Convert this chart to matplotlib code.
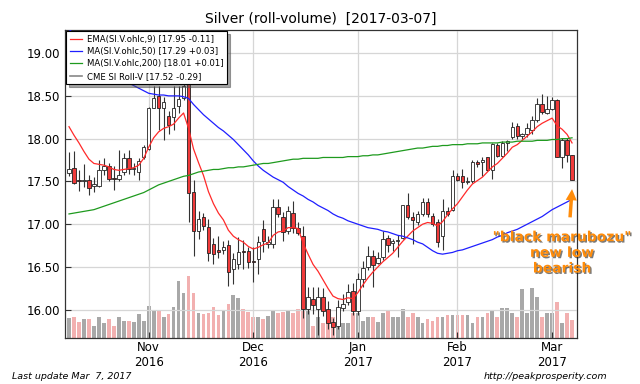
import numpy as np
import pandas as pd
from matplotlib import pyplot as plt
import matplotlib.patheffects as pe

# trading days shown (CME holidays removed)
holidays = ['2016-11-24', '2016-12-26', '2017-01-02', '2017-01-16', '2017-02-20']
dates = pd.bdate_range('2016-10-10', '2017-03-07')
dates = dates[~dates.isin(pd.to_datetime(holidays))]

opens = [17.60, 17.66, 17.52, 17.50, 17.52, 17.45, 17.45, 17.63, 17.68, 17.54,
         17.53, 17.61, 17.77, 17.64, 17.61, 17.79, 17.88, 18.36, 18.50, 18.36,
         18.26, 18.25, 18.38, 18.48, 18.68, 17.38, 16.92, 17.09, 16.97, 16.77,
         16.70, 16.70, 16.76, 16.48, 16.53, 16.69, 16.69, 16.57, 16.59, 16.94,
         16.77, 16.77, 17.20, 17.08, 16.92, 17.13, 16.96, 16.86, 16.01, 16.13,
         16.01, 16.15, 16.01, 15.86, 15.81, 16.02, 16.09, 16.22, 15.98, 16.36,
         16.50, 16.63, 16.55, 16.62, 16.84, 16.78, 16.80, 16.84, 17.22, 17.08,
         17.02, 17.12, 17.26, 17.10, 17.02, 16.86, 17.16, 17.17, 17.56, 17.56,
         17.49, 17.51, 17.73, 17.73, 17.78, 17.63, 17.93, 17.80, 17.95, 18.02,
         18.15, 18.03, 18.05, 18.10, 18.22, 18.41, 18.30, 18.35, 18.45, 17.79,
         17.98, 17.81]
highs = [17.84, 17.85, 17.63, 17.70, 17.57, 17.55, 17.75, 17.77, 17.72, 17.68,
         17.87, 17.83, 17.87, 17.72, 17.77, 17.92, 18.37, 18.62, 18.62, 18.49,
         18.32, 18.62, 18.62, 18.75, 18.75, 17.52, 17.15, 17.13, 17.06, 16.84,
         16.86, 16.80, 16.82, 16.66, 16.85, 16.81, 16.73, 16.73, 16.86, 17.05,
         16.86, 17.29, 17.29, 17.14, 17.21, 17.27, 17.02, 16.98, 16.27, 16.27,
         16.27, 16.25, 16.10, 15.90, 16.11, 16.19, 16.30, 16.31, 16.43, 16.57,
         16.74, 16.70, 16.68, 16.92, 16.87, 16.83, 16.87, 17.23, 17.36, 17.14,
         17.16, 17.31, 17.31, 17.13, 17.06, 17.30, 17.20, 17.63, 17.60, 17.64,
         17.55, 17.75, 17.75, 17.79, 17.79, 17.95, 17.95, 17.97, 17.98, 18.19,
         18.18, 18.07, 18.18, 18.26, 18.47, 18.52, 18.50, 18.49, 18.46, 18.01,
         18.01, 17.81]
lows = [17.56, 17.47, 17.39, 17.43, 17.34, 17.38, 17.44, 17.57, 17.50, 17.40,
        17.50, 17.57, 17.59, 17.57, 17.52, 17.76, 17.87, 18.36, 18.10, 17.98,
        18.05, 18.10, 18.30, 18.45, 17.02, 16.63, 16.83, 16.93, 16.57, 16.53,
        16.60, 16.65, 16.28, 16.30, 16.48, 16.48, 16.49, 16.32, 16.42, 16.68,
        16.72, 16.72, 17.08, 16.80, 16.88, 16.90, 16.87, 15.90, 15.95, 15.95,
        15.70, 15.93, 15.78, 15.70, 15.78, 15.99, 16.05, 15.94, 15.94, 16.27,
        16.47, 16.27, 16.53, 16.58, 16.67, 16.69, 16.62, 16.83, 17.06, 16.77,
        16.99, 17.10, 17.09, 16.98, 16.73, 16.70, 17.10, 17.16, 17.50, 17.42,
        17.47, 17.48, 17.67, 17.56, 17.62, 17.53, 17.78, 17.78, 17.85, 18.00,
        18.00, 18.00, 18.02, 18.06, 18.20, 18.29, 18.29, 18.33, 17.78, 17.66,
        17.73, 17.52]
closes = [17.65, 17.48, 17.51, 17.52, 17.42, 17.47, 17.63, 17.68, 17.53, 17.53,
          17.57, 17.77, 17.64, 17.65, 17.74, 17.90, 18.36, 18.48, 18.36, 18.43,
          18.16, 18.36, 18.46, 18.62, 17.37, 16.92, 17.06, 16.98, 16.66, 16.65,
          16.68, 16.73, 16.44, 16.59, 16.67, 16.67, 16.56, 16.56, 16.79, 16.80,
          16.79, 17.20, 17.12, 16.91, 17.15, 16.96, 16.90, 16.01, 16.15, 16.05,
          16.15, 15.98, 15.84, 15.80, 16.03, 16.07, 16.21, 15.98, 16.36, 16.49,
          16.63, 16.52, 16.61, 16.83, 16.76, 16.80, 16.82, 17.23, 17.08, 17.05,
          17.12, 17.26, 17.12, 17.00, 16.79, 17.15, 17.12, 17.56, 17.52, 17.49,
          17.51, 17.73, 17.70, 17.75, 17.63, 17.94, 17.80, 17.95, 17.97, 18.14,
          18.03, 18.05, 18.12, 18.22, 18.41, 18.31, 18.35, 18.45, 17.79, 17.98,
          17.81, 17.52]
# volume, thousand contracts
volume = [50, 52, 40, 48, 48, 30, 52, 38, 48, 30,
          52, 42, 42, 40, 60, 42, 80, 70, 68, 52,
          60, 78, 142, 112, 155, 112, 62, 60, 62, 78,
          58, 68, 85, 108, 100, 72, 65, 52, 52, 48,
          55, 70, 62, 65, 70, 62, 72, 95, 72, 30,
          52, 38, 42, 52, 28, 38, 38, 62, 62, 42,
          52, 52, 40, 62, 70, 52, 52, 72, 52, 62,
          52, 38, 48, 42, 52, 52, 58, 58, 58, 58,
          58, 38, 52, 52, 62, 70, 52, 75, 75, 62,
          52, 122, 62, 125, 102, 52, 62, 62, 90, 38,
          62, 45]

ema9 = [18.14, 18.04, 17.95, 17.85, 17.76, 17.71, 17.70, 17.69, 17.67, 17.64,
        17.63, 17.64, 17.65, 17.66, 17.69, 17.77, 17.90, 18.01, 18.08, 18.12,
        18.14, 18.17, 18.24, 18.30, 18.12, 17.88, 17.72, 17.57, 17.38, 17.24,
        17.13, 17.05, 16.93, 16.86, 16.82, 16.79, 16.74, 16.71, 16.73, 16.76,
        16.78, 16.87, 16.91, 16.92, 16.96, 16.96, 16.95, 16.78, 16.65, 16.53,
        16.45, 16.35, 16.25, 16.16, 16.13, 16.12, 16.14, 16.13, 16.20, 16.29,
        16.37, 16.44, 16.50, 16.56, 16.61, 16.66, 16.73, 16.80, 16.86, 16.92,
        16.96, 17.00, 17.02, 17.01, 16.98, 17.03, 17.11, 17.18, 17.24, 17.32,
        17.40, 17.47, 17.51, 17.55, 17.61, 17.67, 17.71, 17.77, 17.83, 17.90,
        17.93, 17.98, 18.03, 18.08, 18.14, 18.18, 18.21, 18.24, 18.15, 18.11,
        18.05, 17.95]
ma50 = [19.28, 19.22, 19.16, 19.10, 19.04, 18.98, 18.92, 18.86, 18.81, 18.76,
        18.72, 18.68, 18.65, 18.62, 18.59, 18.56, 18.53, 18.52, 18.51, 18.51,
        18.50, 18.50, 18.50, 18.49, 18.47, 18.40, 18.34, 18.28, 18.23, 18.18,
        18.13, 18.09, 18.04, 17.99, 17.93, 17.87, 17.81, 17.74, 17.68, 17.63,
        17.59, 17.55, 17.52, 17.49, 17.44, 17.40, 17.36, 17.33, 17.29, 17.26,
        17.22, 17.19, 17.16, 17.12, 17.09, 17.07, 17.04, 17.02, 17.00, 16.98,
        16.96, 16.95, 16.94, 16.92, 16.91, 16.89, 16.87, 16.86, 16.84, 16.82,
        16.79, 16.77, 16.73, 16.69, 16.66, 16.65, 16.66, 16.67, 16.69, 16.70,
        16.72, 16.74, 16.76, 16.78, 16.80, 16.82, 16.85, 16.87, 16.90, 16.92,
        16.94, 16.97, 17.00, 17.03, 17.06, 17.09, 17.13, 17.17, 17.20, 17.23,
        17.26, 17.29]
ma200 = [17.12, 17.13, 17.14, 17.15, 17.16, 17.17, 17.19, 17.21, 17.23, 17.25,
         17.27, 17.29, 17.31, 17.33, 17.35, 17.37, 17.40, 17.43, 17.46, 17.48,
         17.50, 17.52, 17.54, 17.56, 17.57, 17.59, 17.61, 17.62, 17.63, 17.64,
         17.64, 17.65, 17.66, 17.66, 17.67, 17.67, 17.68, 17.69, 17.70, 17.71,
         17.71, 17.72, 17.73, 17.74, 17.75, 17.76, 17.76, 17.77, 17.77, 17.77,
         17.77, 17.78, 17.78, 17.78, 17.78, 17.78, 17.79, 17.79, 17.79, 17.80,
         17.80, 17.81, 17.81, 17.82, 17.83, 17.84, 17.85, 17.86, 17.87, 17.88,
         17.89, 17.89, 17.90, 17.91, 17.91, 17.92, 17.92, 17.93, 17.93, 17.93,
         17.94, 17.94, 17.94, 17.95, 17.95, 17.95, 17.95, 17.96, 17.96, 17.96,
         17.97, 17.97, 17.97, 17.97, 17.98, 17.98, 17.98, 17.99, 17.99, 18.00,
         18.00, 18.01]

df = pd.DataFrame({'open': opens, 'high': highs, 'low': lows, 'close': closes,
                   'volume': volume, 'ema9': ema9, 'ma50': ma50, 'ma200': ma200},
                  index=dates)
x = np.arange(len(df))
up = df['close'] >= df['open']

fig = plt.figure(figsize=(6.4, 3.84), dpi=100)
ax = fig.add_axes([0.1016, 0.1198, 0.8, 0.8021])
ax2 = ax.twinx()
ax.set_zorder(ax2.get_zorder() + 1)
ax.patch.set_visible(False)
ax2.set_facecolor('#f4f4f4')

# volume bars
vol_colors = np.where(up, '#a8a8a8', '#f2b0b0')
ax2.bar(x, df['volume'], width=0.75, color=vol_colors, linewidth=0)
ax2.set_ylim(0, 770)
ax2.set_yticks([])

# candles
ax.vlines(x, df['low'], df['high'], color='#333333', linewidth=0.8, zorder=2)
body_bottom = np.minimum(df['open'], df['close'])
body_height = np.maximum(np.abs(df['close'] - df['open']), 0.012)
body_colors = np.where(up, 'white', '#f03a3a')
ax.bar(x, body_height, bottom=body_bottom, width=0.7, color=body_colors,
       edgecolor='#222222', linewidth=0.6, zorder=3)

# moving averages
ax.plot(x, df['ema9'], color='#ff2a2a', linewidth=0.9, zorder=4,
        label='EMA(SI.V.ohlc,9) [17.95 -0.11]')
ax.plot(x, df['ma50'], color='#1f1fff', linewidth=0.9, zorder=4,
        label='MA(SI.V.ohlc,50) [17.29 +0.03]')
ax.plot(x, df['ma200'], color='#1e9a1e', linewidth=0.9, zorder=4,
        label='MA(SI.V.ohlc,200) [18.01 +0.01]')
ax.plot([], [], color='#888888', linewidth=1.2, label='CME SI Roll-V [17.52 -0.29]')

ax.set_xlim(-0.8, 102.0)
ax.set_ylim(15.67, 19.27)
ax.set_yticks([16.0, 16.5, 17.0, 17.5, 18.0, 18.5, 19.0])
ax.set_yticklabels(['%.2f' % v for v in ax.get_yticks()])

month_start = [i for i in range(1, len(df)) if dates[i].month != dates[i - 1].month]
ax.set_xticks(month_start)
ax.set_xticklabels([dates[i].strftime('%b\n%Y') for i in month_start])
ax.tick_params(direction='in', labelsize=8.5, length=4, color='#333333')
ax.tick_params(axis='x', pad=2)
ax2.tick_params(direction='in')
ax.grid(True, color='#d6d6d6', linewidth=0.9, zorder=0)
ax.set_axisbelow(True)
for s in ax.spines.values():
    s.set_color('#333333')

leg = ax.legend(loc='upper left', fontsize=6.1, framealpha=1, fancybox=False,
                shadow=True, edgecolor='black', handlelength=1.5,
                borderaxespad=0.15, labelspacing=0.4, handletextpad=0.6)
leg.get_frame().set_linewidth(0.8)
leg.set_zorder(10)

ax.set_title('Silver (roll-volume)  [2017-03-07]', fontsize=10, pad=5)

# annotation for the last bar
orange = '#ff8c0a'
shadow = [pe.withSimplePatchShadow(offset=(1, -1), shadow_rgbFace='#222222', alpha=0.6)]
ax.annotate('', xy=(101, 17.41), xytext=(100.6, 17.08),
            arrowprops=dict(facecolor=orange, edgecolor='none', width=2.5,
                            headwidth=8, headlength=8), zorder=6)
ax.text(99.0, 16.93, '"black marubozu"\nnew low\nbearish', color=orange,
        fontsize=10, fontweight='bold', ha='center', va='top', linespacing=1.15,
        path_effects=shadow, zorder=7, clip_on=False)

fig.text(0.019, 0.012, 'Last update Mar  7, 2017', fontsize=6.8, style='italic')
fig.text(0.949, 0.012, 'http://peakprosperity.com', fontsize=6.8, style='italic', ha='right')

plt.savefig('out.png', dpi=100)
